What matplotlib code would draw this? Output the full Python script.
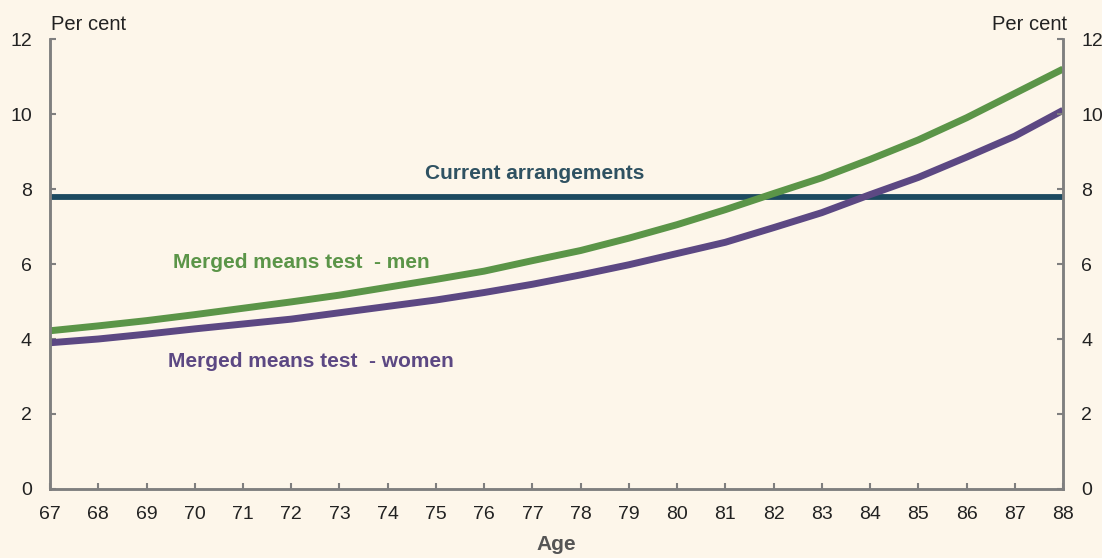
import numpy as np
import matplotlib.pyplot as plt

plt.rcParams['font.family'] = ['Liberation Sans', 'DejaVu Sans']

# data
ages = list(range(67, 89))
men = [4.22, 4.35, 4.49, 4.65, 4.82, 4.99, 5.17, 5.38, 5.59, 5.81, 6.09, 6.36,
       6.69, 7.05, 7.45, 7.88, 8.30, 8.79, 9.31, 9.90, 10.55, 11.20]
women = [3.90, 4.00, 4.13, 4.27, 4.40, 4.53, 4.70, 4.87, 5.04, 5.24, 5.46, 5.71,
         5.98, 6.28, 6.58, 6.97, 7.37, 7.85, 8.31, 8.85, 9.41, 10.10]
current = 7.8
y_ticks = [0, 2, 4, 6, 8, 10, 12]

bg = '#FDF6EA'
grey = '#7F7F7F'
c_men = '#5B9548'
c_women = '#5C4883'
c_cur = '#1D4A60'

fig = plt.figure(figsize=(11.02, 5.58), dpi=100, facecolor=bg)
ax = fig.add_axes([0.0454, 0.1237, 0.9192, 0.8063])
ax.set_facecolor(bg)

ax.axhline(current, color=c_cur, lw=4.2)
ax.plot(ages, men, color=c_men, lw=5, solid_capstyle='butt')
ax.plot(ages, women, color=c_women, lw=5, solid_capstyle='butt')

ax.set_xlim(67, 88)
ax.set_ylim(0, 12)
ax.set_xticks(ages)
ax.set_yticks(y_ticks)

ax2 = ax.twinx()
ax2.set_ylim(0, 12)
ax2.set_yticks(y_ticks)

for a in (ax, ax2):
    a.spines['top'].set_visible(False)
    for s in ('left', 'right', 'bottom'):
        a.spines[s].set_color(grey)
        a.spines[s].set_linewidth(1.8)
    a.tick_params(direction='in', length=4, width=1.5, color=grey,
                  labelsize=14, labelcolor='#222222', pad=13)
ax.tick_params(axis='x', pad=12)

ax.text(0.001, 1.012, 'Per cent', transform=ax.transAxes, fontsize=14.5,
        color='#222222', ha='left', va='bottom')
ax.text(1.004, 1.012, 'Per cent', transform=ax.transAxes, fontsize=14.5,
        color='#222222', ha='right', va='bottom')
ax.set_xlabel('Age', fontsize=15, color='#555555', fontweight='bold', labelpad=9)

ax.text(77.05, 8.15, 'Current arrangements', color='#2F5262', fontsize=15,
        fontweight='bold', ha='center', va='bottom')
ax.text(72.2, 6.05, 'Merged means test  - men', color=c_men, fontsize=15,
        fontweight='bold', ha='center', va='center')
ax.text(72.4, 3.4, 'Merged means test  - women', color=c_women, fontsize=15,
        fontweight='bold', ha='center', va='center')

fig.savefig('out.png', dpi=100, facecolor=bg)
